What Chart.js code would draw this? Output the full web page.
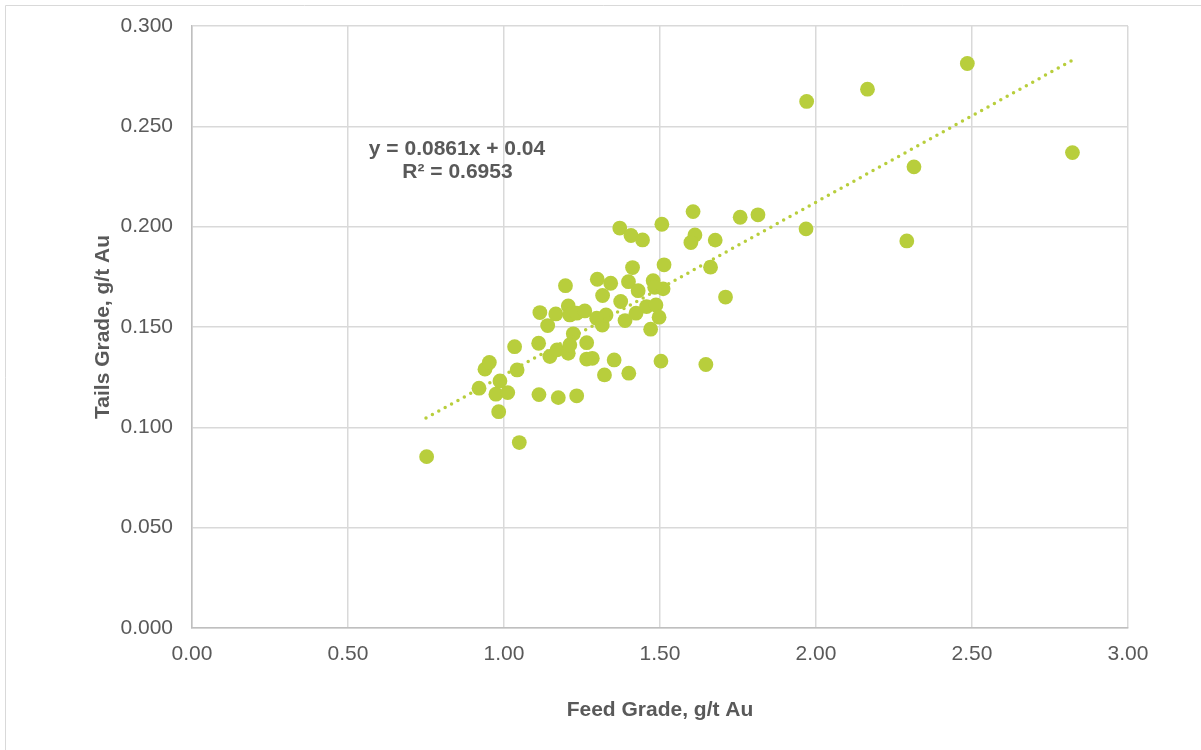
<!DOCTYPE html>
<html>
<head>
<meta charset="utf-8">
<script src="https://cdn.jsdelivr.net/npm/chart.js@4"></script>
<style>
html,body{margin:0;padding:0;background:#fff;overflow:hidden;}
#wrap{position:absolute;left:0;top:0;width:1201px;height:750px;}
</style>
</head>
<body>
<div id="wrap"><canvas id="c" width="1201" height="750"></canvas></div>
<script>
// Feed grade (g/t Au)
const feedGrade = [
  0.752, 1.049, 0.983, 0.920, 0.974, 1.012, 0.987, 0.939, 0.953, 1.042,
  1.034, 1.112, 1.174, 1.233, 1.111, 1.147, 1.170, 1.206, 1.211, 1.222,
  1.265, 1.265, 1.283, 1.322, 1.353, 1.400, 1.470, 1.503, 1.647, 1.115,
  1.140, 1.166, 1.206, 1.211, 1.233, 1.259, 1.197, 1.297, 1.315, 1.327,
  1.316, 1.299, 1.342, 1.374, 1.388, 1.399, 1.430, 1.423, 1.412, 1.457,
  1.487, 1.497, 1.478, 1.510, 1.513, 1.483, 1.371, 1.407, 1.444, 1.506,
  1.606, 1.612, 1.599, 1.677, 1.662, 1.710, 1.757, 1.814, 1.970, 2.165,
  2.485, 2.822, 2.314, 2.291, 1.968
];
// Tails grade (g/t Au)
const tailsGrade = [
  0.0854, 0.0924, 0.1078, 0.1195, 0.1165, 0.1173, 0.1231, 0.1290, 0.1323, 0.1286,
  0.1402, 0.1163, 0.1148, 0.1157, 0.1419, 0.1353, 0.1386, 0.1369, 0.1411, 0.1466,
  0.1422, 0.1340, 0.1344, 0.1261, 0.1336, 0.1270, 0.1489, 0.1330, 0.1313, 0.1572,
  0.1507, 0.1565, 0.1605, 0.1560, 0.1569, 0.1580, 0.1706, 0.1544, 0.1510, 0.1560,
  0.1657, 0.1738, 0.1718, 0.1627, 0.1532, 0.1726, 0.1681, 0.1569, 0.1796, 0.1602,
  0.1610, 0.1549, 0.1731, 0.1690, 0.1810, 0.1698, 0.1993, 0.1956, 0.1934, 0.2012,
  0.2075, 0.1959, 0.1921, 0.1933, 0.1798, 0.1649, 0.2047, 0.2059, 0.2624, 0.2685,
  0.2813, 0.2369, 0.2298, 0.1929, 0.1989
];
// Linear trendline end points (as drawn)
const trendX = [0.75, 2.82];
const trendY = [0.1046, 0.2828];
const trendLabel = ["y = 0.0861x + 0.04", "R\u00b2 = 0.6953"];
const xTitle = "Feed Grade, g/t Au";
const yTitle = "Tails Grade, g/t Au";

const TEXT = '#595959';
const GREEN = 'rgb(184,206,60)';
const FONT = '"Liberation Sans", Arial, sans-serif';

const pts = feedGrade.map((x, i) => ({x: x, y: tailsGrade[i]}));
const trend = trendX.map((x, i) => ({x: x, y: trendY[i]}));

const decor = {
  id: 'decor',
  beforeDraw(chart) {
    const ctx = chart.ctx;
    ctx.save();
    ctx.strokeStyle = '#d9d9d9';
    ctx.lineWidth = 1;
    ctx.beginPath();
    ctx.moveTo(5.5, 750); ctx.lineTo(5.5, 5.5); ctx.lineTo(1201, 5.5);
    ctx.stroke();
    ctx.restore();
  },
  afterDatasetsDraw(chart) {
    const ctx = chart.ctx;
    ctx.save();
    ctx.fillStyle = TEXT;
    ctx.font = 'bold 21px ' + FONT;
    ctx.textAlign = 'center';
    ctx.textBaseline = 'middle';
    ctx.fillText(trendLabel[0], 457, 149);
    ctx.fillText(trendLabel[1], 457.5, 172);
    ctx.restore();
  }
};

new Chart(document.getElementById('c'), {
  type: 'scatter',
  data: {
    datasets: [
      {
        label: 'Trend',
        data: trend,
        showLine: true,
        borderColor: GREEN,
        borderWidth: 3.5,
        borderDash: [0, 7.3],
        borderCapStyle: 'round',
        pointRadius: 0,
        pointHoverRadius: 0,
        fill: false,
        order: 0
      },
      {
        label: 'Data',
        data: pts,
        backgroundColor: GREEN,
        borderColor: GREEN,
        borderWidth: 0,
        pointRadius: 7.4,
        pointHoverRadius: 7.4,
        order: 1
      }
    ]
  },
  options: {
    responsive: false,
    animation: false,
    devicePixelRatio: 1,
    layout: {padding: {left: 0, top: 26, right: 73, bottom: 0}},
    plugins: {legend: {display: false}, tooltip: {enabled: false}},
    scales: {
      x: {
        type: 'linear',
        min: 0, max: 3,
        afterFit(s) { s.height = 122; s.paddingLeft = 0; s.paddingRight = 0; },
        border: {display: true, color: '#bfbfbf', width: 1.5},
        grid: {color: '#d9d9d9', lineWidth: 1.5, drawTicks: false},
        ticks: {
          stepSize: 0.5,
          padding: 14,
          color: TEXT,
          font: {family: FONT, size: 21},
          callback: v => Number(v).toFixed(2)
        },
        title: {
          display: true, text: xTitle, color: TEXT,
          font: {family: FONT, size: 21, weight: 'bold'},
          padding: {top: 0, bottom: 27}
        }
      },
      y: {
        type: 'linear',
        min: 0, max: 0.3,
        afterFit(s) { s.width = 192; s.paddingTop = 0; s.paddingBottom = 0; },
        border: {display: true, color: '#bfbfbf', width: 1.5},
        grid: {color: '#d9d9d9', lineWidth: 1.5, drawTicks: false},
        ticks: {
          stepSize: 0.05,
          padding: 19,
          color: TEXT,
          font: {family: FONT, size: 21},
          callback: v => Number(v).toFixed(3)
        },
        title: {
          display: true, text: yTitle, color: TEXT,
          font: {family: FONT, size: 21, weight: 'bold'},
          padding: {top: 91, bottom: 0}
        }
      }
    }
  },
  plugins: [decor]
});
</script>
</body>
</html>
